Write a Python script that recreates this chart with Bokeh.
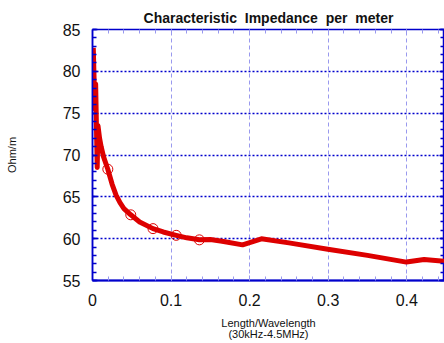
from bokeh.plotting import figure
from bokeh.models import Range1d, LinearAxis, FixedTicker, CustomJSTickFormatter
from bokeh.embed import file_html
from bokeh.resources import INLINE

# Impedance trace vs. electrical length (fraction of wavelength)
length_wl = [0.001, 0.003, 0.004, 0.005, 0.006, 0.007, 0.009, 0.011, 0.014, 0.0195,
             0.025, 0.030, 0.035, 0.040, 0.0487, 0.060, 0.077, 0.090, 0.1065, 0.120,
             0.136, 0.150, 0.165, 0.191, 0.215, 0.250, 0.2995, 0.350, 0.3995, 0.422, 0.448]
impedance = [82.8, 75.5, 78.5, 73.5, 68.5, 73.5, 72.0, 71.0, 69.8, 68.3,
             66.5, 65.2, 64.3, 63.6, 62.85, 62.0, 61.2, 60.8, 60.4, 60.1,
             59.86, 59.9, 59.7, 59.26, 59.98, 59.5, 58.74, 58.0, 57.2, 57.5, 57.3]

# Sampled points marked with circles
marker_x = [0.0195, 0.0487, 0.077, 0.1065, 0.136]
marker_y = [68.3, 62.85, 61.2, 60.4, 59.86]

x_ticks = [0, 0.1, 0.2, 0.3, 0.4]
y_ticks = [55, 60, 65, 70, 75, 80, 85]

DARK_BLUE = "#0000cc"
LIGHT_BLUE = "#9999ee"
RED = "#dd0000"
TEXT = "#111111"
FONT = "Liberation Sans"

p = figure(width=444, height=343, output_backend="svg", toolbar_location=None,
           x_range=Range1d(0, 0.448), y_range=Range1d(55, 85),
           min_border_left=92, min_border_right=0, min_border_top=29, min_border_bottom=63)

p.title.text = "Characteristic\u00a0 Impedance\u00a0 per\u00a0 meter"
p.title.align = "center"
p.title.text_font = FONT
p.title.text_font_size = "14px"
p.title.text_font_style = "bold"
p.title.text_color = TEXT
p.title.standoff = 8

p.outline_line_color = DARK_BLUE
p.outline_line_width = 1.5

# bottom axis
xa = p.xaxis[0]
xa.ticker = FixedTicker(ticks=x_ticks, minor_ticks=[i * 0.02 for i in range(23)])
xa.axis_line_color = DARK_BLUE
xa.axis_line_width = 2
xa.major_tick_in = 5
xa.major_tick_out = 0
xa.minor_tick_in = 4
xa.minor_tick_out = 0
xa.major_tick_line_color = LIGHT_BLUE
xa.minor_tick_line_color = LIGHT_BLUE
xa.major_label_text_font = FONT
xa.major_label_text_font_size = "16px"
xa.major_label_text_color = TEXT
xa.major_label_standoff = 13
xa.axis_label = "Length/Wavelength\n(30kHz-4.5MHz)"
xa.axis_label_text_font = FONT
xa.axis_label_text_font_size = "11px"
xa.axis_label_text_font_style = "normal"
xa.axis_label_text_color = TEXT
xa.axis_label_text_line_height = 0.95
xa.axis_label_standoff = 8

# left axis
ya = p.yaxis[0]
ya.ticker = FixedTicker(ticks=y_ticks, minor_ticks=list(range(55, 86)))
ya.axis_line_color = DARK_BLUE
ya.axis_line_width = 1.5
ya.major_tick_in = 5
ya.major_tick_out = 0
ya.minor_tick_in = 4
ya.minor_tick_out = 0
ya.major_tick_line_color = DARK_BLUE
ya.minor_tick_line_color = DARK_BLUE
ya.major_tick_line_width = 1.5
ya.minor_tick_line_width = 1.5
ya.major_label_text_font = FONT
ya.major_label_text_font_size = "16px"
ya.major_label_text_color = TEXT
ya.major_label_standoff = 12
ya.axis_label = "Ohm/m"
ya.axis_label_text_font = FONT
ya.axis_label_text_font_size = "11px"
ya.axis_label_text_font_style = "normal"
ya.axis_label_text_color = TEXT
ya.axis_label_standoff = 42

blank = CustomJSTickFormatter(code="return ''")

# top and right axes: inside ticks only
top = LinearAxis(ticker=FixedTicker(ticks=x_ticks, minor_ticks=[i * 0.02 for i in range(23)]),
                 formatter=blank, axis_line_color=None,
                 major_tick_in=5, major_tick_out=0, minor_tick_in=4, minor_tick_out=0,
                 major_tick_line_color=LIGHT_BLUE, minor_tick_line_color=LIGHT_BLUE,
                 major_label_standoff=0, major_label_text_font_size="0px")
p.add_layout(top, "above")
right = LinearAxis(ticker=FixedTicker(ticks=y_ticks, minor_ticks=list(range(55, 86))),
                   formatter=blank, axis_line_color=None,
                   major_tick_in=5, major_tick_out=0, minor_tick_in=4, minor_tick_out=0,
                   major_tick_line_color=DARK_BLUE, minor_tick_line_color=DARK_BLUE,
                   major_tick_line_width=1.5, minor_tick_line_width=1.5,
                   major_label_standoff=0, major_label_text_font_size="0px")
p.add_layout(right, "right")

# grid
p.xgrid.ticker = FixedTicker(ticks=x_ticks)
p.xgrid.grid_line_color = LIGHT_BLUE
p.xgrid.grid_line_dash = "4 3"
p.xgrid.grid_line_width = 1
p.ygrid.ticker = FixedTicker(ticks=y_ticks)
p.ygrid.grid_line_color = DARK_BLUE
p.ygrid.grid_line_dash = "2 2"
p.ygrid.grid_line_width = 1.5

p.line(length_wl, impedance, line_color=RED, line_width=5, line_join="round")
p.scatter(marker_x, marker_y, marker="circle", size=10, fill_color=None,
          line_color=RED, line_width=1)

open("out.html", "w").write(file_html(p, INLINE))
